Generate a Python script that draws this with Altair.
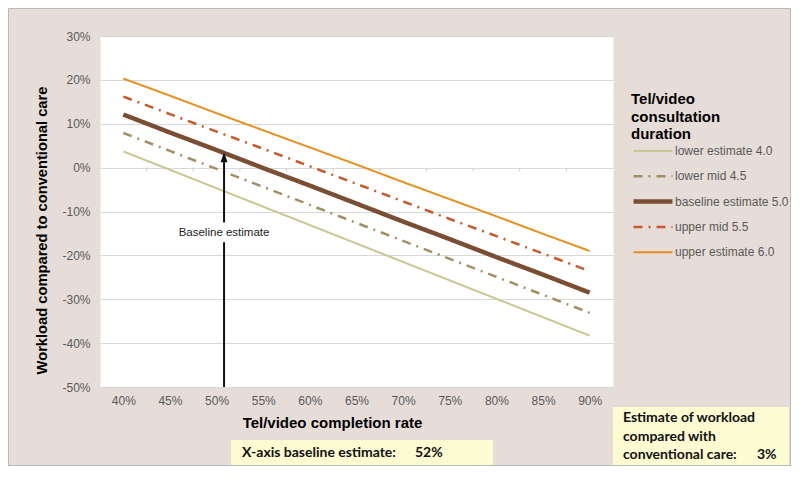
import altair as alt
import pandas as pd

# ---- data ----
rates = [40, 45, 50, 55, 60, 65, 70, 75, 80, 85, 90]
series_names = ["lower estimate 4.0", "lower mid 4.5", "baseline estimate 5.0",
                "upper mid 5.5", "upper estimate 6.0"]
lower_estimate = [3.7, -0.5, -4.7, -8.9, -13.1, -17.3, -21.5, -25.7, -29.9, -34.1, -38.3]
lower_mid = [7.9, 3.8, -0.3, -4.4, -8.5, -12.6, -16.7, -20.8, -24.9, -29.0, -33.1]
baseline = [12.1, 8.0, 4.0, -0.1, -4.1, -8.2, -12.3, -16.3, -20.4, -24.4, -28.5]
upper_mid = [16.2, 12.2, 8.2, 4.3, 0.3, -3.7, -7.7, -11.7, -15.6, -19.6, -23.6]
upper_estimate = [20.3, 16.4, 12.4, 8.5, 4.6, 0.7, -3.3, -7.2, -11.1, -15.1, -19.0]
y_ticks = [-50, -40, -30, -20, -10, 0, 10, 20, 30]

arrow_x = 50.8          # baseline estimate arrow position (completion rate)
arrow_tip = 2.35        # workload value at the arrow head
arrow_label = "Baseline estimate"
arrow_label_y = -14.8
x_baseline_text = "X-axis baseline estimate:"
x_baseline_value = "52%"
workload_lines = ["Estimate of workload", "compared with", "conventional care:"]
workload_value = "3%"

# ---- styles ----
colors = ["#cbc691", "#a48e64", "#7a4e33", "#c65a2b", "#e6901f"]
dashes = [[1, 0], [9, 6, 2, 6], [1, 0], [9, 6, 2, 6], [1, 0]]
widths = [2, 2.5, 4.5, 2.5, 2]
bg = "#e7ddd8"
box_fill = "#fdfbd2"
legend_title = ["Tel/video", "consultation", "duration"]

all_vals = [lower_estimate, lower_mid, baseline, upper_mid, upper_estimate]
rows = []
for name, vals in zip(series_names, all_vals):
    for r, v in zip(rates, vals):
        rows.append({"rate": r, "workload": v, "series": name})
df = pd.DataFrame(rows)

W, H = 513, 351
xscale = alt.Scale(domain=[37.5, 92.5], nice=False, zero=False)
yscale = alt.Scale(domain=[-50, 30], nice=False, zero=False)

legend = alt.Legend(
    title=legend_title,
    orient="none", legendX=531, legendY=56, padding=0,
    titleFontSize=15, titleFontWeight="bold", titleColor="#000000",
    titleLineHeight=17.5, titlePadding=2, titleFont="Liberation Sans",
    labelFontSize=12, labelColor="#595959", labelFont="Liberation Sans",
    symbolType="stroke", symbolSize=1521, clipHeight=14, rowPadding=11.3,
    labelOffset=0,
)

lines = alt.Chart(df).mark_line().encode(
    x=alt.X("rate:Q", scale=xscale,
            axis=alt.Axis(values=rates, labelExpr="datum.value + '%'", grid=False,
                          domain=False, ticks=False, labelFontSize=12,
                          labelColor="#595959", labelPadding=8,
                          title="Tel/video completion rate", titleFontSize=15,
                          titleFontWeight="bold", titleColor="#000000",
                          titleX=232, titleY=35, titleAlign="center",
                          titleBaseline="middle")),
    y=alt.Y("workload:Q", scale=yscale,
            axis=alt.Axis(values=y_ticks, labelExpr="datum.value + '%'", grid=True,
                          gridColor="#d9d9d9", domain=False, ticks=False,
                          labelFontSize=12, labelColor="#595959", labelPadding=10,
                          title="Workload compared to conventional care",
                          titleFontSize=14.7, titleFontWeight="bold",
                          titleColor="#000000", titleX=-58, titleY=194,
                          titleAngle=270, titleAlign="center",
                          titleBaseline="middle")),
    color=alt.Color("series:N", scale=alt.Scale(domain=series_names, range=colors),
                    legend=legend, title=legend_title),
    strokeDash=alt.StrokeDash("series:N",
                              scale=alt.Scale(type="ordinal", domain=series_names, range=dashes),
                              legend=legend, title=legend_title),
    strokeWidth=alt.StrokeWidth("series:N",
                                scale=alt.Scale(type="ordinal", domain=series_names, range=widths),
                                legend=legend, title=legend_title),
)

# small category tick marks on the 0% line (between categories)
bounds = pd.DataFrame({"b": [(a + b) / 2 for a, b in zip(rates[:-1], rates[1:])]})
zero_ticks = alt.Chart(bounds).mark_rule(color="#cfcfcf", strokeWidth=1).encode(
    x=alt.X("b:Q", scale=xscale),
    y=alt.datum(0, scale=yscale),
    y2=alt.datum(-0.9),
)

# arrow (split around the label)
arrow_df = pd.DataFrame({"x": [arrow_x, arrow_x], "y": [-50, -12.5], "y2": [-17.0, arrow_tip]})
arrow = alt.Chart(arrow_df).mark_rule(color="#111111", strokeWidth=2).encode(
    x=alt.X("x:Q", scale=xscale), y=alt.Y("y:Q", scale=yscale), y2="y2:Q")
head = alt.Chart(pd.DataFrame({"x": [arrow_x], "y": [arrow_tip]})).mark_point(
    shape="M0,-1L0.7,1L-0.7,1Z", filled=True, color="#111111", size=100, opacity=1
).encode(x=alt.X("x:Q", scale=xscale), y=alt.Y("y:Q", scale=yscale))
label = alt.Chart(pd.DataFrame({"x": [arrow_x], "y": [arrow_label_y], "t": [arrow_label]})).mark_text(
    fontSize=11.5, color="#222222", font="Liberation Sans", align="center", baseline="middle"
).encode(x=alt.X("x:Q", scale=xscale), y=alt.Y("y:Q", scale=yscale), text="t:N")

one = pd.DataFrame({"k": [0]})
border = alt.Chart(one).mark_rect(fillOpacity=0, stroke="#b9b9b9", strokeWidth=1).encode(
    x=alt.value(-91.5), x2=alt.value(W + 177.5), y=alt.value(-27.5), y2=alt.value(H + 78.5))

box1 = alt.Chart(one).mark_rect(fill=box_fill).encode(
    x=alt.value(131), x2=alt.value(393), y=alt.value(404), y2=alt.value(430))
box2 = alt.Chart(one).mark_rect(fill=box_fill).encode(
    x=alt.value(513), x2=alt.value(689), y=alt.value(371), y2=alt.value(430))

tstyle = dict(font="Lato", fontSize=14, fontWeight="bold", color="#111111",
              align="left", baseline="middle")
t1 = alt.Chart(one).mark_text(**tstyle).encode(
    x=alt.value(142), y=alt.value(417), text=alt.value(x_baseline_text))
t2 = alt.Chart(one).mark_text(**tstyle).encode(
    x=alt.value(315), y=alt.value(417), text=alt.value(x_baseline_value))
t3 = alt.Chart(one).mark_text(**tstyle).encode(
    x=alt.value(523), y=alt.value(382), text=alt.value(workload_lines[0]))
t4 = alt.Chart(one).mark_text(**tstyle).encode(
    x=alt.value(523), y=alt.value(400.5), text=alt.value(workload_lines[1]))
t5 = alt.Chart(one).mark_text(**tstyle).encode(
    x=alt.value(523), y=alt.value(418.5), text=alt.value(workload_lines[2]))
t6 = alt.Chart(one).mark_text(**tstyle).encode(
    x=alt.value(657), y=alt.value(418.5), text=alt.value(workload_value))

chart = alt.layer(
    zero_ticks, lines, arrow, head, label,
    box1, box2, t1, t2, t3, t4, t5, t6, border
).properties(
    width=W, height=H,
    autosize=alt.AutoSizeParams(type="none"),
    padding={"left": 92, "top": 28, "right": 178, "bottom": 79},
    background=bg,
).configure(font="Liberation Sans").configure_view(stroke="transparent", fill="white")

chart.save("out.html", embed_options={"renderer": "svg", "actions": False})
